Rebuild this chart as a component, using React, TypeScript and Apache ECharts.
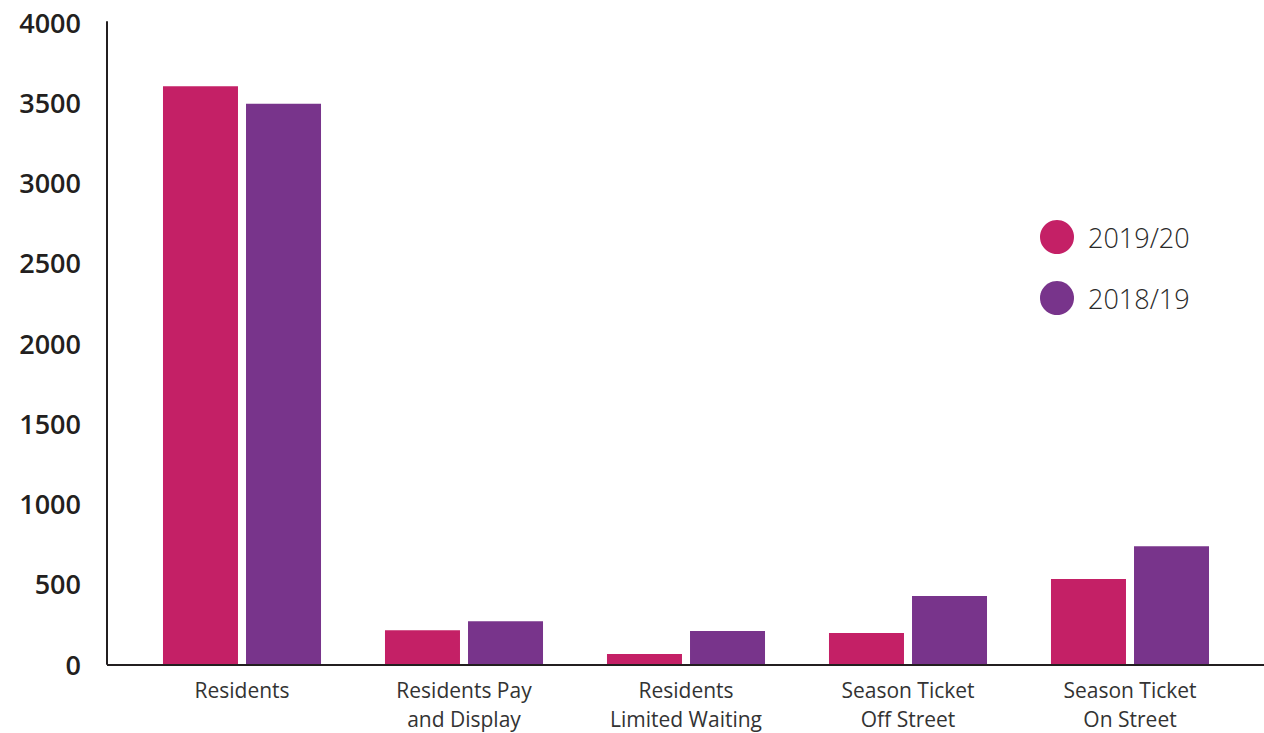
import React, { useEffect, useRef } from "react";
import * as echarts from "echarts";

const categories = [
  "Residents",
  "Residents Pay\nand Display",
  "Residents\nLimited Waiting",
  "Season Ticket\nOff Street",
  "Season Ticket\nOn Street",
];
const series2019 = [3600, 211, 62, 193, 529];
const series2018 = [3490, 267, 205, 423, 734];
const seriesNames = ["2019/20", "2018/19"];
const yTicks = { min: 0, max: 4000, interval: 500 };

const PINK = "#C42066";
const PURPLE = "#78348B";
const FONT = "'Open Sans', 'Noto Sans', sans-serif";

export default function App() {
  const ref = useRef<HTMLDivElement>(null);
  useEffect(() => {
    document.body.style.margin = "0";
    const chart = echarts.init(ref.current!, null, { renderer: "svg" });
    chart.setOption({
      animation: false,
      backgroundColor: "#ffffff",
      grid: { left: 131, right: 23, top: 22, bottom: 68, containLabel: false },
      legend: {
        orient: "vertical",
        left: 1035,
        top: 215,
        icon: "circle",
        itemWidth: 34,
        itemHeight: 34,
        itemGap: 27,
        data: seriesNames,
        textStyle: { fontFamily: FONT, fontSize: 27, color: "#2a2a2a", fontWeight: 300, padding: [0, 0, 0, 9] },
      },
      xAxis: {
        type: "category",
        data: categories,
        axisLine: { show: false },
        axisTick: { show: false },
        axisLabel: {
          fontFamily: FONT,
          fontSize: 21,
          lineHeight: 29,
          color: "#333333",
          margin: 11,
          interval: 0,
        },
      },
      yAxis: {
        type: "value",
        min: yTicks.min,
        max: yTicks.max,
        interval: yTicks.interval,
        offset: 24,
        axisLine: { show: true, lineStyle: { color: "#231F20", width: 2 } },
        axisTick: { show: false },
        splitLine: { show: false },
        axisLabel: {
          fontFamily: FONT,
          fontSize: 27,
          fontWeight: 600,
          color: "#231F20",
          margin: 26,
          formatter: (v: number) => String(v),
        },
      },
      graphic: [
        {
          type: "line",
          shape: { x1: 107, y1: 665, x2: 1264, y2: 665 },
          style: { stroke: "#231F20", lineWidth: 2 },
          z: 100,
        },
      ],
      series: [
        {
          name: seriesNames[0],
          type: "bar",
          data: series2019,
          barWidth: 75,
          barGap: "10.7%",
          itemStyle: { color: PINK },
        },
        {
          name: seriesNames[1],
          type: "bar",
          data: series2018,
          barWidth: 75,
          barGap: "10.7%",
          itemStyle: { color: PURPLE },
        },
      ],
    });
    return () => chart.dispose();
  }, []);
  return <div ref={ref} style={{ width: 1264, height: 733 }} />;
}
